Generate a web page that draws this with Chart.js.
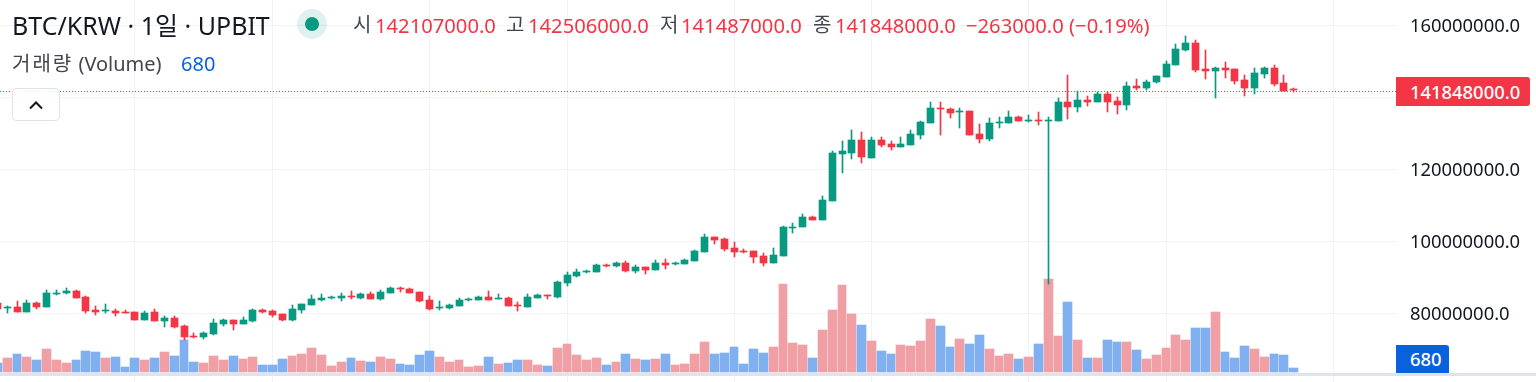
<!DOCTYPE html>
<html lang="ko">
<head>
<meta charset="utf-8">
<title>BTC/KRW</title>
<script src="https://cdn.jsdelivr.net/npm/chart.js@4"></script>
<style>
html,body{margin:0;padding:0;background:#fff;width:1536px;height:382px;overflow:hidden}
#wrap{position:relative;width:1536px;height:382px;font-family:"Noto Sans","Noto Sans CJK KR",sans-serif;color:#131722}
canvas{position:absolute;left:0;top:0}
.t{position:absolute;white-space:nowrap;line-height:1}
.r{color:#F23645}
#band{position:absolute;left:0;top:373px;width:1536px;height:3px;background:#E0E3EB}
#box{position:absolute;left:12px;top:88px;width:46px;height:31px;border:1px solid #E0E3EB;border-radius:4px;background:rgba(255,255,255,.85);display:flex;align-items:center;justify-content:center}
#halo{position:absolute;left:297px;top:9px;width:30px;height:30px;border-radius:50%;background:rgba(8,153,129,.13)}
#dot{position:absolute;left:305px;top:17px;width:14px;height:14px;border-radius:50%;background:#089981}
#priceTag{position:absolute;left:1396px;width:134px;height:29px;background:#F23645;border-radius:0 3px 3px 0;color:#fff;font-size:18.4px;line-height:29px;text-indent:14px;font-weight:500}
#volTag{position:absolute;left:1396px;width:53px;height:28px;background:#0962DC;border-radius:0 3px 0 0;color:#fff;font-size:18.4px;line-height:28px;text-indent:14px;font-weight:500}
</style>
</head>
<body>
<div id="wrap">
<canvas id="c" width="1536" height="382"></canvas>
<div id="band"></div>
<div class="t" id="title" style="left:12px;top:13px;font-size:25px"></div>
<div id="halo"></div><div id="dot"></div>
<div class="t" style="left:353px;top:15px;font-size:20px;color:#42464f" id="lo">시</div>
<div class="t r" style="left:375px;top:15px;font-size:20.2px" id="vo"></div>
<div class="t" style="left:506px;top:15px;font-size:20px;color:#42464f" id="lh">고</div>
<div class="t r" style="left:528px;top:15px;font-size:20.2px" id="vh"></div>
<div class="t" style="left:660px;top:15px;font-size:20px;color:#42464f" id="ll">저</div>
<div class="t r" style="left:681px;top:15px;font-size:20.2px" id="vl"></div>
<div class="t" style="left:813px;top:15px;font-size:20px;color:#42464f" id="lc">종</div>
<div class="t r" style="left:835px;top:15px;font-size:20.2px" id="vc"></div>
<div class="t r" style="left:966px;top:15px;font-size:20.2px" id="chg"></div>
<div class="t" style="left:12px;top:54px;font-size:20px;color:#42464f"><span style="letter-spacing:2px">거래량</span> (Volume)</div>
<div class="t" id="volVal" style="left:181px;top:54px;font-size:20px;color:#0962DC"></div>
<div id="box"><svg width="18" height="12" viewBox="0 0 18 12"><path d="M3 9.5 L9 3.5 L15 9.5" fill="none" stroke="#131722" stroke-width="2"/></svg></div>
<div id="priceTag"></div>
<div id="volTag"></div>
</div>
<script>
const titleText = "BTC/KRW · 1일 · UPBIT";
const priceTicks = [160, 140, 120, 100, 80];
const monthStarts = [14, 28, 44, 58, 75, 89, 105, 119, 136];
// prices in millions of KRW
const opens = [82.83,81.44,81.72,80.33,82.83,81.72,85.33,85.61,86.16,84.50,
80.89,80.61,80.61,80.33,80.33,78.11,80.33,77.83,78.67,76.45,
73.67,73.39,74.23,77.00,78.11,77.00,77.83,80.89,80.61,79.78,
78.11,80.89,82.28,83.67,84.22,84.22,84.78,84.22,85.33,83.94,
85.61,86.99,86.72,85.89,83.67,81.44,81.44,82.00,83.67,83.67,
84.50,83.94,84.22,82.28,81.72,84.22,85.05,84.50,88.39,90.33,
91.44,91.44,93.38,93.11,93.94,91.72,92.83,91.99,93.94,93.66,
93.66,94.49,96.99,101.15,100.60,98.10,97.27,97.27,95.88,93.94,
95.88,103.65,103.93,106.70,105.87,111.15,124.19,124.47,128.08,123.08,
128.08,126.97,126.14,126.69,129.47,132.80,136.96,136.68,135.85,136.13,
129.74,128.36,132.80,132.80,134.46,133.35,133.63,133.35,133.35,138.63,
137.24,139.18,138.63,140.85,138.90,137.79,143.07,142.51,144.18,145.57,
148.90,153.06,155.00,147.79,147.23,148.06,147.79,144.73,142.51,146.40,
148.06,143.90,142.107];
const highs = [82.83,82.00,83.39,83.67,83.11,86.44,86.44,86.99,86.44,84.78,
82.00,82.56,81.17,80.89,80.33,80.61,81.17,79.22,79.22,76.72,
74.50,74.78,78.39,78.39,78.11,78.94,81.17,81.17,80.89,79.78,
82.28,82.56,85.05,85.33,84.78,85.61,86.16,85.61,85.89,86.44,
87.27,87.27,86.99,85.89,84.78,83.39,82.56,84.22,84.22,84.78,
86.16,85.33,84.50,83.11,85.33,85.33,85.05,88.94,91.44,92.27,
91.99,93.66,93.66,94.21,94.49,93.38,92.83,94.77,95.05,94.21,
95.05,97.54,101.98,101.15,100.87,99.77,97.82,97.27,96.71,98.10,
104.21,105.04,107.54,106.98,112.53,125.03,127.80,130.85,130.30,128.91,
128.91,127.80,128.91,130.85,133.35,138.63,138.63,136.96,136.96,136.13,
132.52,134.18,134.46,136.13,134.74,135.02,135.85,134.46,139.74,146.12,
141.68,140.29,141.40,141.40,140.01,144.18,145.01,144.73,145.84,150.01,
154.73,156.95,155.84,153.06,148.34,149.73,147.79,146.12,148.06,148.34,
148.90,146.12,142.506];
const lows = [81.17,80.06,80.33,80.33,81.17,81.72,85.05,85.33,84.22,80.06,
79.50,80.06,79.22,80.06,78.11,78.11,77.83,76.17,75.89,72.56,
73.12,72.84,73.95,76.45,75.34,77.00,77.56,80.06,78.94,77.83,
77.83,80.06,82.28,83.39,83.94,83.39,83.94,83.94,83.94,83.67,
85.61,85.89,85.61,83.11,80.89,80.89,81.17,82.00,83.39,83.67,
83.67,83.94,82.00,80.61,81.72,84.22,83.94,84.22,87.55,90.05,
91.16,91.44,92.83,92.83,91.44,91.16,90.88,91.99,92.27,93.38,
93.66,94.49,96.99,99.21,97.27,95.60,96.71,93.94,93.11,93.94,
95.88,102.26,103.93,105.87,105.87,111.15,118.92,122.80,121.69,123.08,
126.14,125.30,126.14,126.69,128.36,132.80,129.47,134.18,131.41,129.47,
127.25,127.80,131.41,132.80,133.35,133.07,132.24,88.11,133.35,133.91,
135.85,137.52,138.63,135.85,135.30,136.41,141.96,141.96,143.90,145.57,
148.90,152.78,146.95,145.01,139.74,145.29,143.62,140.29,140.85,145.29,
143.07,141.68,141.487];
const closes = [81.17,81.72,80.33,82.83,81.72,85.61,85.61,86.16,84.22,80.61,
80.33,80.89,80.06,80.06,78.11,80.06,77.83,78.67,76.17,73.39,
73.39,74.50,77.28,78.11,77.00,78.11,80.89,80.33,79.50,78.11,
81.17,82.56,83.94,84.22,84.50,84.78,84.50,85.33,83.94,85.89,
86.99,86.72,85.61,83.39,81.17,81.72,82.28,83.67,83.94,84.50,
83.67,84.22,82.00,82.00,84.50,85.05,84.78,88.66,90.60,91.44,
91.72,93.38,93.11,93.94,91.72,92.83,91.99,93.94,93.38,93.94,
94.77,97.27,101.15,100.32,97.82,96.99,96.99,95.60,93.94,96.16,
103.93,103.93,106.70,105.87,111.42,124.47,125.03,128.08,123.36,128.08,
126.69,126.14,126.97,129.74,133.07,136.96,136.68,135.57,136.13,129.47,
128.36,132.80,133.07,134.46,133.35,133.63,133.35,133.63,138.63,137.24,
139.18,138.63,140.85,138.63,137.79,143.07,142.51,144.18,145.84,149.17,
153.34,155.00,147.51,147.23,148.06,147.51,144.46,142.51,146.68,148.06,
143.62,141.68,141.848];
const volumes = [1530,2380,3060,2550,2040,3910,2040,1530,2040,3570,
3400,2380,2550,850,2380,2040,2380,3400,2720,5440,
1700,1530,2720,2040,2720,2210,2550,1190,1190,2210,
2720,3060,4080,2890,1020,1700,2380,1870,1700,2550,
2210,1360,1190,2890,3570,2550,1700,2040,850,1020,
2550,1360,1530,2040,2040,1190,1020,4080,4760,2890,
2040,2380,1190,1700,3060,2210,2040,2210,3060,1190,
1360,3060,5100,3060,3230,4250,1360,3910,3230,4250,
14960,4930,4590,2380,7140,10540,14790,9860,7990,5270,
3570,3060,4590,4420,5270,9010,7820,4250,5610,4760,
6290,3910,2720,3060,2210,2550,4760,15810,6120,11900,
5440,2380,2380,5440,5100,5100,3740,2210,2890,4080,
6290,5440,7480,7480,10200,3400,2380,4420,3910,2550,
3060,2890,680];
// 1 = pink volume bar, 0 = blue volume bar
const volumeSide = [0,1,0,1,0,1,1,1,0,0,
0,1,0,0,0,1,0,1,0,0,
0,1,1,1,0,1,1,0,0,0,
1,1,1,1,1,1,0,1,0,1,
1,0,0,0,0,1,1,1,1,1,
0,1,0,0,1,1,0,1,1,1,
1,1,0,1,0,1,0,1,0,1,
1,1,1,0,0,0,0,0,0,1,
1,1,1,0,1,1,1,1,0,1,
0,0,1,1,1,1,0,0,1,0,
0,1,1,1,0,1,0,1,1,0,
1,0,1,0,0,1,0,1,1,1,
1,1,0,0,1,0,0,0,1,1,
0,0,0];

const UP = '#089981', DOWN = '#F23645', PINK = '#F0A0A5', BLUE = '#80B0F0', GRID = '#F1F2F5';
const XMIN = 0.2546, XMAX = 142.41;
const idx = opens.map((_, i) => i);
const last = opens.length - 1;
const won = v => (v * 1e6).toFixed(1);
const colors = idx.map(i => closes[i] >= opens[i] ? UP : DOWN);

const set = (id, s) => document.getElementById(id).textContent = s;
set('title', titleText);
set('vo', won(opens[last])); set('vh', won(highs[last])); set('vl', won(lows[last])); set('vc', won(closes[last]));
const diff = Math.round((closes[last] - 142.111) * 1e6);
set('chg', '\u2212' + Math.abs(diff).toFixed(1) + ' (\u22120.19%)');
set('volVal', String(volumes[last])); set('volTag', String(volumes[last])); set('priceTag', won(closes[last]));

const snap = {
  id: 'snap',
  afterDatasetsUpdate(chart) {
    chart.data.datasets.forEach((ds, d) => {
      const els = chart.getDatasetMeta(d).data;
      if (ds.type === 'line') { els.forEach(p => { p.y = Math.ceil(p.y) + 0.5; }); return; }
      const centers = els.map(el => Math.floor(el.x));
      els.forEach((el, i) => {
        if (ds.yAxisID === 'vol') {
          const left = centers[i] - 4;
          const nextLeft = i < last ? centers[i + 1] - 4 : Infinity;
          const right = Math.min(centers[i] + 5, nextLeft - 1);
          el.width = right - left;
          el.x = left + el.width / 2;
        } else {
          el.x = centers[i] + 0.5;
        }
        let a = Math.round(el.y), b = Math.round(el.base);
        if (a === b) a -= 1;
        el.y = a; el.base = b;
      });
    });
  }
};
const noPad = s => { s.paddingTop = 0; s.paddingBottom = 0; s.paddingLeft = 0; s.paddingRight = 0; };

const chart = new Chart(document.getElementById('c'), {
  data: {
    datasets: [
      { type: 'line', order: 0, xAxisID: 'x', yAxisID: 'price',
        data: [{x: XMIN, y: closes[last]}, {x: XMAX, y: closes[last]}],
        borderColor: DOWN, borderWidth: 1, borderDash: [1, 2], pointRadius: 0, fill: false },
      { type: 'bar', order: 1, xAxisID: 'x', yAxisID: 'price', grouped: false,
        data: idx.map(i => ({x: i, y: [opens[i], closes[i]]})),
        backgroundColor: colors, barThickness: 7, borderWidth: 0, borderSkipped: false },
      { type: 'bar', order: 2, xAxisID: 'x', yAxisID: 'price', grouped: false,
        data: idx.map(i => ({x: i, y: [lows[i], highs[i]]})),
        backgroundColor: colors, barThickness: 1, borderWidth: 0, borderSkipped: false },
      { type: 'bar', order: 3, xAxisID: 'x', yAxisID: 'vol', grouped: false,
        data: idx.map(i => ({x: i, y: volumes[i]})),
        backgroundColor: idx.map(i => volumeSide[i] ? PINK : BLUE), barThickness: 9, borderWidth: 0, borderSkipped: false }
    ]
  },
  options: {
    responsive: false, animation: false, events: [],
    layout: { padding: 0 },
    plugins: { legend: { display: false }, tooltip: { enabled: false }, title: { display: false } },
    scales: {
      x: {
        type: 'linear', min: XMIN, max: XMAX, offset: false,
        afterBuildTicks: s => { s.ticks = monthStarts.map(v => ({value: v})); },
        afterFit: s => { s.height = 0; noPad(s); },
        ticks: { display: false },
        border: { display: false },
        grid: { color: GRID, lineWidth: 1, drawTicks: false, offset: false }
      },
      price: {
        type: 'linear', position: 'right', min: 60.90, max: 166.94,
        afterBuildTicks: s => { s.ticks = priceTicks.map(v => ({value: v})); },
        afterFit: s => { s.width = 140; noPad(s); },
        ticks: {
          callback: v => won(v), color: '#131722', crossAlign: 'near', padding: 14, labelOffset: 2,
          font: { family: '"Noto Sans"', size: 18.4 }, autoSkip: false, maxRotation: 0
        },
        border: { display: false },
        grid: { color: GRID, lineWidth: 1, drawTicks: false }
      },
      vol: {
        type: 'linear', display: false, min: -1700, max: 63240,
        grid: { display: false }
      }
    }
  },
  plugins: [snap]
});

const pY = chart.scales.price.getPixelForValue(closes[last]);
document.getElementById('priceTag').style.top = Math.round(pY - 13.4) + 'px';
const vY = chart.scales.vol.getPixelForValue(0);
document.getElementById('volTag').style.top = Math.round(vY - 27) + 'px';
</script>
</body>
</html>
